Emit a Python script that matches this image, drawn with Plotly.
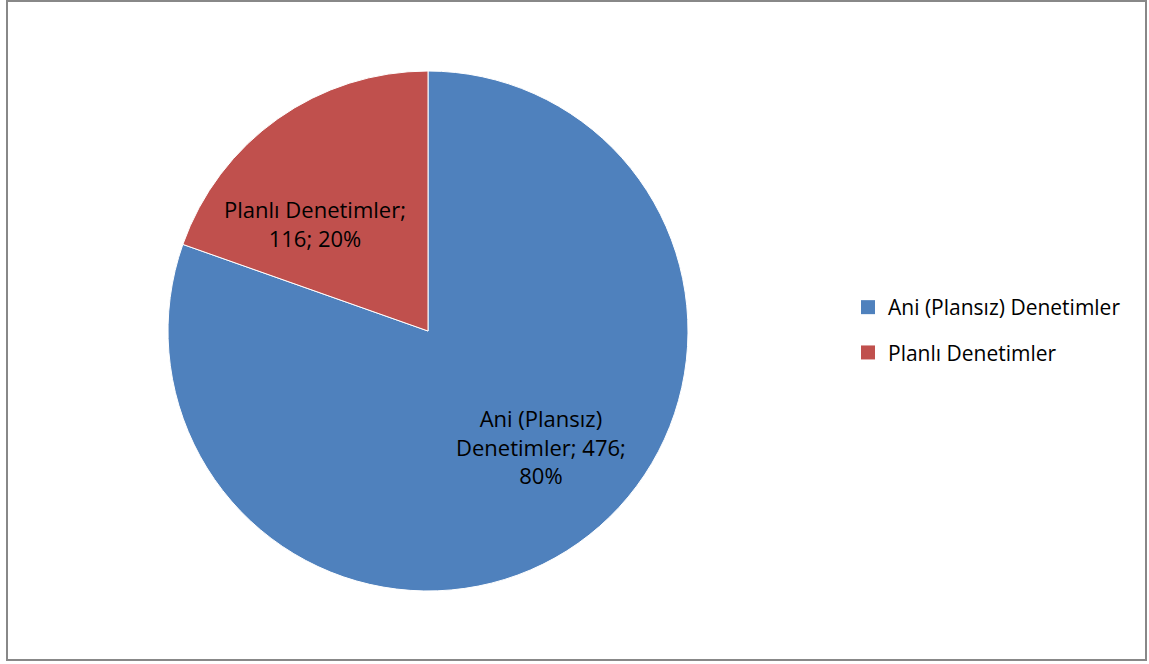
import math
import plotly.graph_objects as go

labels = ["Ani (Plansız) Denetimler", "Planlı Denetimler"]
values = [476, 116]
text_labels = ["Ani (Plansız)<br>Denetimler; 476;<br>80%", "Planlı Denetimler;<br>116; 20%"]
colors = ["#4F81BD", "#C0504D"]

W, H = 1149, 664
cx, cy, r = 428, 331, 260
FONT = "Open Sans, Liberation Sans, sans-serif"
LABEL_R = 0.61          # radial position of labels (fraction of radius)
LABEL_SHIFT = -10       # degrees, best-fit shift like the original

fig = go.Figure()
fig.add_trace(go.Pie(
    labels=labels,
    values=values,
    textinfo="none",
    sort=False,
    direction="clockwise",
    rotation=0,
    showlegend=False,
    marker=dict(colors=colors, line=dict(color="white", width=1)),
    domain=dict(x=[(cx - r) / W, (cx + r) / W], y=[(H - cy - r) / H, (H - cy + r) / H]),
    hoverinfo="label+value+percent",
))

# legend entries (one per slice)
for i, (lab, col) in enumerate(zip(labels, colors)):
    fig.add_trace(go.Scatter(
        x=[None], y=[None], mode="markers", name=lab,
        marker=dict(symbol="square", size=14, color=col),
        legendgroup=f"g{i}", showlegend=True, hoverinfo="skip",
    ))

# data labels placed near slice mid-angles (computed from values)
total = sum(values)
annotations = []
cum = 0
for v, t in zip(values, text_labels):
    mid = (cum + v / 2) / total * 360 + LABEL_SHIFT  # clockwise from top
    cum += v
    a = math.radians(mid)
    px = cx + LABEL_R * r * math.sin(a)
    py = cy - LABEL_R * r * math.cos(a) + 4
    annotations.append(dict(
        x=px / W, y=1 - py / H, xref="paper", yref="paper",
        text=t, showarrow=False, align="center",
        xanchor="center", yanchor="middle",
        font=dict(family=FONT, size=22, color="black"),
    ))

fig.update_layout(
    width=W, height=H,
    margin=dict(l=0, r=0, t=0, b=0),
    paper_bgcolor="white",
    plot_bgcolor="white",
    font=dict(family=FONT, color="black"),
    xaxis=dict(visible=False),
    yaxis=dict(visible=False),
    legend=dict(
        x=848 / W, y=(H - 287) / H, xanchor="left", yanchor="top",
        font=dict(size=21, color="black", family=FONT),
        itemwidth=30,
        tracegroupgap=15,
        bgcolor="rgba(0,0,0,0)",
    ),
    annotations=annotations,
    shapes=[dict(
        type="rect", xref="paper", yref="paper",
        x0=7 / W, x1=1146 / W, y0=1 - 660 / H, y1=1 - 1 / H,
        line=dict(color="#888888", width=2),
        fillcolor="rgba(0,0,0,0)",
    )],
)

fig.write_html("out.html")
